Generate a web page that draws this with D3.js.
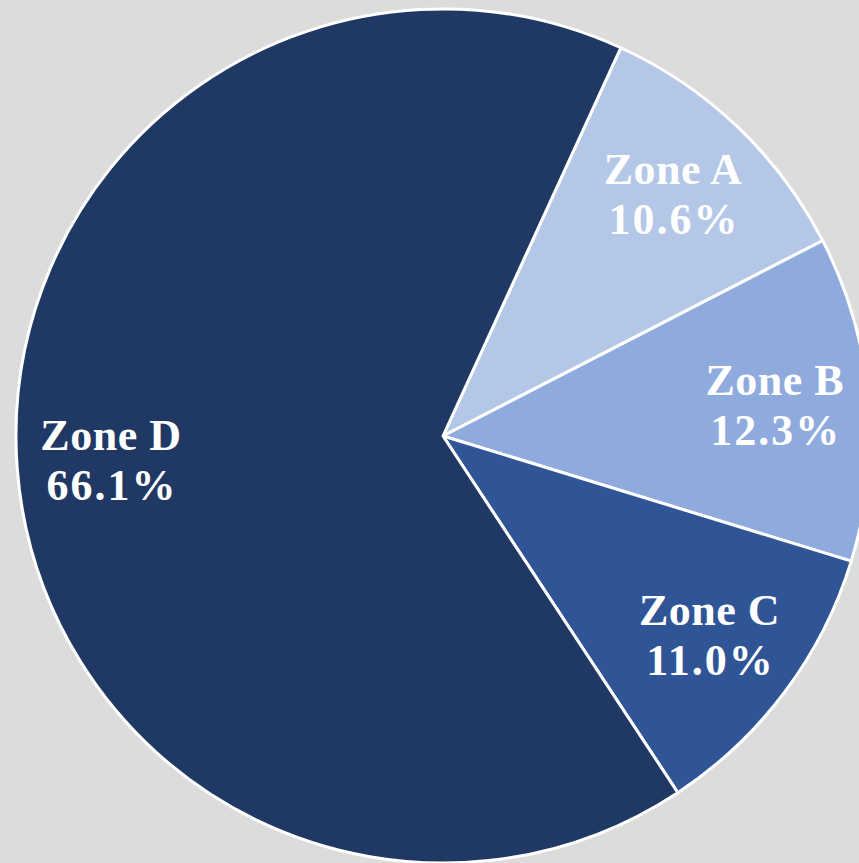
<!DOCTYPE html>
<head>
    <title>Zone pie</title>
    <script src='https://d3js.org/d3.v7.min.js'></script>
    <style>
        body { margin: 0; background: #dcdcdc; overflow: hidden; }
    </style>
</head>
<body>
    <svg></svg>
</body>

<script>
    var zones = ['Zone A', 'Zone B', 'Zone C', 'Zone D'];
    var shares = [10.6, 12.3, 11.0, 66.1];
    var colors = ['#b4c7e7', '#8faadc', '#2f5597', '#203864'];

    var vWidth = 859;
    var vHeight = 863;
    var vRadius = 427;
    var cx = 443, cy = 436;

    var svg = d3.select('svg').attr('width', vWidth).attr('height', vHeight);
    var g = svg.append('g').attr('transform', 'translate(' + cx + ',' + cy + ')');

    // start a bit past 12 o'clock, like the original
    var start = 24.6 * Math.PI / 180;
    var pie = d3.pie().sort(null).value(function (d) { return d; })
        .startAngle(start).endAngle(start + 2 * Math.PI);
    var arc = d3.arc().innerRadius(0).outerRadius(vRadius);
    var labelArc = d3.arc().innerRadius(vRadius * 0.78).outerRadius(vRadius * 0.78);

    var slices = g.selectAll('g.slice').data(pie(shares)).enter().append('g').attr('class', 'slice');

    slices.append('path')
        .attr('d', arc)
        .style('fill', function (d, i) { return colors[i]; })
        .style('stroke', '#fff')
        .style('stroke-width', 3)
        .style('stroke-linejoin', 'round');

    var txt = slices.append('text')
        .attr('transform', function (d) { return 'translate(' + labelArc.centroid(d) + ')'; })
        .attr('text-anchor', 'middle')
        .style('font-family', '"Liberation Serif", serif')
        .style('font-weight', 'bold')
        .style('font-size', '44px')
        .style('fill', '#fff');

    txt.append('tspan').attr('x', 0).attr('y', -11)
        .style('letter-spacing', '0.5px')
        .text(function (d, i) { return zones[i]; });
    txt.append('tspan').attr('x', 1).attr('y', 39)
        .style('letter-spacing', '2px')
        .text(function (d) { return d.data.toFixed(1) + '%'; });
</script>
